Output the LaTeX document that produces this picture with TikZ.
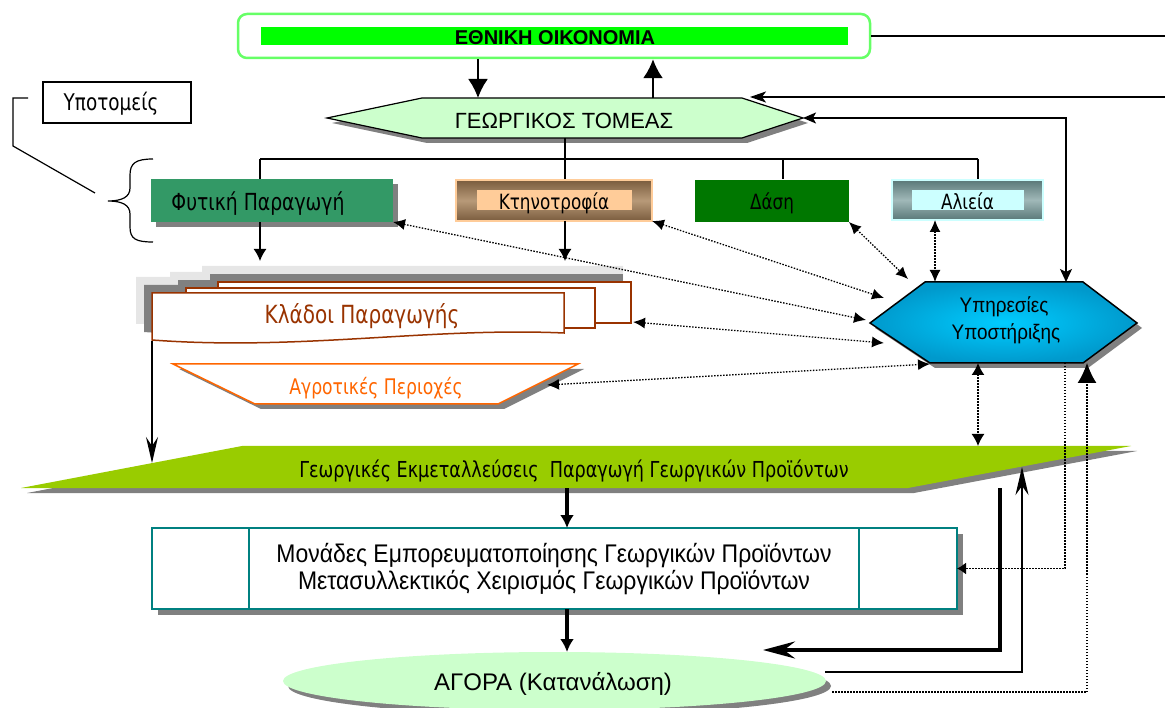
\documentclass[tikz,border=0pt]{standalone}
\usepackage{fontspec}
\setmainfont{Liberation Sans}
\newfontfamily\verd[FakeStretch=0.8]{DejaVu Sans}
\newfontfamily\narrowf[FakeStretch=0.9]{Liberation Sans}
\usetikzlibrary{arrows.meta,shadows,shapes.geometric,positioning}

\definecolor{econgreen}{HTML}{66FF66}
\definecolor{bargreen}{HTML}{00FF00}
\definecolor{lightgreen}{HTML}{CCFFCC}
\definecolor{plantgreen}{HTML}{339966}
\definecolor{brownd}{HTML}{7A5C3E}
\definecolor{brownl}{HTML}{B89A78}
\definecolor{peach}{HTML}{FFCC99}
\definecolor{forestgreen}{HTML}{007700}
\definecolor{fishd}{HTML}{5A7878}
\definecolor{fishl}{HTML}{A0B8B8}
\definecolor{fishcyan}{HTML}{CCFFFF}
\definecolor{kladoi}{HTML}{993300}
\definecolor{rural}{HTML}{FF6600}
\definecolor{farmgreen}{HTML}{99CC00}
\definecolor{tealline}{HTML}{008080}
\definecolor{supcyan}{HTML}{00CCFF}
\definecolor{supblue}{HTML}{0099CC}
\definecolor{shadowgray}{HTML}{808080}
\definecolor{shadelight}{HTML}{E6E6E6}

\newcommand{\fsz}[1]{\fontsize{#1pt}{#1pt}\selectfont}
\newcommand{\frontpage}{(152,293) -- (564,293) -- (564,333) .. controls (430,327) and (300,351) .. (152,340) -- cycle}

\begin{document}
\begin{tikzpicture}[x=1pt,y=-1pt,
    shadowed/.style={drop shadow={shadow xshift=5pt,shadow yshift=-5pt,fill=shadowgray,opacity=1}},
    txt/.style={anchor=base,inner sep=0pt},
    flat/.style={inner sep=0pt,outer sep=0pt},
    dotline/.style={line width=1.3pt,dash pattern=on 1.5pt off 1.5pt},
    dotarrow/.style={dotline,{Latex[length=12pt,width=11pt]}-{Latex[length=12pt,width=11pt]}},
    bigarrow/.style={line width=2pt,-{Latex[length=19pt,width=20pt]}},
    thinarrow/.style={line width=1.5pt,-{Latex[length=12pt,width=13pt]}},
    thickarrow/.style={line width=3.5pt,-{Latex[length=13pt,width=14pt]}}]

\useasboundingbox (0,0) rectangle (1165,708);

\coordinate (agr-d) at (478,98);
\coordinate (agr-u) at (653,98);
\coordinate (agr-s) at (565,138);
\coordinate (agr-e) at (803,118);
\coordinate (agr-ne) at (750,97);
\coordinate (edge-a) at (1165,37);
\coordinate (edge-b) at (1165,97);
\coordinate (branch) at (565,159);
\coordinate (sup-n) at (1066,282);
\coordinate (sup-a) at (908,279);
\coordinate (sup-b) at (884,298);
\coordinate (sup-c) at (866,320);
\coordinate (sup-d) at (884,343);
\coordinate (sup-e) at (930,364);
\coordinate (sup-fish) at (935,282);
\coordinate (sup-s1) at (978,363);
\coordinate (sup-s2) at (1065,363);
\coordinate (sup-s3) at (1087,363);
\coordinate (kl-n1) at (260,261);
\coordinate (kl-n2) at (565,261);
\coordinate (kl-e) at (633,322);
\coordinate (kl-sw) at (152,341);
\coordinate (rur-e) at (547,385);
\coordinate (farm-n) at (978,446);
\coordinate (farm-w) at (152,463);
\coordinate (farm-s) at (567,488);
\coordinate (farm-s2) at (1000,488);
\coordinate (farm-se) at (1022,467);
\coordinate (div-a) at (249,0);
\coordinate (div-b) at (859,0);
\coordinate (mkt-in) at (763,650);
\coordinate (mkt-e1) at (825,672);
\coordinate (mkt-e2) at (832,692);
\coordinate (call-a) at (28,98);
\coordinate (call-b) at (95,193);

% national economy
\node[draw=econgreen,line width=2.5pt,rounded corners=9pt,fill=white,minimum width=632pt,minimum height=44pt] (econ) at (554,36) {};
\node[flat,fill=bargreen,minimum width=587pt,minimum height=18pt] (econbar) at (554.5,36) {};
\node[txt,font=\bfseries\fsz{20}] (econtxt) at (555,45) {ΕΘΝΙΚΗ ΟΙΚΟΝΟΜΙΑ};

% agricultural sector
\draw[fill=lightgreen,line width=1.2pt,shadowed] (327,118) -- (422,98) -- (742,98) -- (803,118) -- (742,138) -- (422,138) -- cycle;
\node[txt,font=\fsz{22}] (agr) at (564,129) {ΓΕΩΡΓΙΚΟΣ ΤΟΜΕΑΣ};

\draw[bigarrow] (econ.south -| agr-d) -- (agr-d);
\draw[bigarrow] (agr-u) -- (econ.south -| agr-u);
\draw[line width=1.5pt] (econ.east) -- (econ.east -| edge-a);
\draw[line width=1.5pt,-{Stealth[length=16pt,width=11pt,inset=4pt]}] (edge-b) -- (agr-ne);
\draw[line width=1.5pt,{Stealth[length=13pt,width=11pt,inset=3pt]}-{Stealth[length=13pt,width=12pt,inset=3pt]}] (agr-e) -| (sup-n);

% sub-sectors
\draw[line width=1.2pt] (agr-s) -- (branch);
\draw[line width=1.2pt] (260,159) -- (978,159);
\foreach \x/\n in {260/plant,565/livestock,783/forest,978/fish}
  \draw[line width=1.2pt] (\x,159) -- (\x,179);

\node[draw,line width=1.2pt,flat,minimum width=148pt,minimum height=41pt] (subs) at (117,102.5) {};
\node[txt,font=\verd\fsz{23}] (substxt) at (111,111) {Υποτομείς};
\draw[line width=1.2pt] (call-a) -- (13,98) -- (13,146) -- (call-b);
\draw[line width=1.2pt] (153,159) .. controls (136,159) and (130,163) .. (130,175) -- (130,188)
  .. controls (130,197) and (122,201) .. (108,201) .. controls (122,201) and (130,205) .. (130,214)
  -- (130,227) .. controls (130,239) and (136,242) .. (153,242);

\node[flat,fill=plantgreen,minimum width=242pt,minimum height=43pt,shadowed] (plant) at (272,200.5) {};
\node[txt,font=\verd\fsz{23.5}] (planttxt) at (258,211) {Φυτική Παραγωγή};

\node[flat,draw=peach,line width=1.2pt,top color=brownd,bottom color=brownd,middle color=brownl,minimum width=196pt,minimum height=41pt] (livestock) at (554,200.5) {};
\node[flat,fill=peach,minimum width=155pt,minimum height=20pt] (livestockin) at (554.5,200) {};
\node[txt,font=\verd\fsz{21}] (livestocktxt) at (554,210) {Κτηνοτροφία};

\node[flat,fill=forestgreen,minimum width=154pt,minimum height=42pt] (forest) at (772,201) {};
\node[txt,font=\verd\fsz{21}] (foresttxt) at (772,210) {Δάση};

\node[flat,draw=fishcyan,line width=1.2pt,top color=fishd,bottom color=fishd,middle color=fishl,minimum width=151pt,minimum height=40pt] (fish) at (967.5,200) {};
\node[flat,fill=fishcyan,minimum width=112pt,minimum height=20pt] (fishin) at (968,200) {};
\node[txt,font=\verd\fsz{21}] (fishtxt) at (967.5,210) {Αλιεία};

% production branches
\fill[shadelight] (136,324) -- (136,277) -- (170,277) -- (170,272) -- (202,272) -- (202,266) -- (623,266) -- (623,290) -- (150,290) -- (150,324) -- cycle;
\fill[shadowgray,shift={(-8,-8)}] (218,282) rectangle (631,323);
\fill[shadowgray,shift={(-8,-8)}] (186,288) rectangle (595,328);
\fill[shadowgray,shift={(-8,-8)}] \frontpage;
\draw[kladoi,line width=1.5pt,fill=white] (218,282) rectangle (631,323);
\draw[kladoi,line width=1.5pt,fill=white] (186,288) rectangle (595,328);
\draw[kladoi,line width=1.5pt,fill=white] \frontpage;
\node[txt,font=\verd\fsz{25}] [text=kladoi] (branches) at (362,324) {Κλάδοι Παραγωγής};

\draw[thinarrow] (plant.south -| kl-n1) -- (kl-n1);
\draw[thinarrow] (livestock.south -| kl-n2) -- (kl-n2);

% rural areas
\draw[rural,line width=1.5pt,fill=white,drop shadow={shadow xshift=6pt,shadow yshift=-5pt,fill=shadowgray,opacity=1}] (173,364) -- (578,364) -- (498,404) -- (255,404) -- cycle;
\node[txt,font=\verd\fsz{21.5},text=rural] (rural) at (376,395) {Αγροτικές Περιοχές};

% farms
\fill[farmgreen,drop shadow={shadow xshift=6pt,shadow yshift=-5pt,fill=shadowgray,opacity=1}] (21,488) -- (242,446) -- (1131,446) -- (908,488) -- cycle;
\node[txt,font=\verd\fsz{22}] (farm) at (574,477) {Γεωργικές Εκμεταλλεύσεις\ \ Παραγωγή Γεωργικών Προϊόντων};
\draw[line width=1.5pt,-{Stealth[length=26pt,width=12pt,inset=9pt]}] (kl-sw) -- (farm-w);

% support services
\shadedraw[shading=radial,inner color=supcyan,outer color=supblue,line width=1.5pt,shadowed] (870,323) -- (925,282) -- (1083,282) -- (1137,323) -- (1083,363) -- (930,363) -- cycle;
\node[txt,font=\narrowf\fsz{21}] (sup1) at (1004,313) {Υπηρεσίες};
\node[txt,font=\narrowf\fsz{21}] (sup2) at (1006,340) {Υποστήριξης};

\draw[dotarrow] (plant.south east) -- (sup-c);
\draw[dotarrow] (livestock.south east) -- (sup-b);
\draw[dotarrow] (forest.south east) -- (sup-a);
\draw[dotarrow] (fish.south -| sup-fish) -- (sup-fish);
\draw[dotarrow] (kl-e) -- (sup-d);
\draw[dotarrow] (rur-e) -- (sup-e);
\draw[dotline,{Latex[length=12pt,width=13pt]}-{Latex[length=12pt,width=13pt]}] (sup-s1) -- (farm-n);

% marketing units
\node[flat,draw=tealline,line width=2pt,fill=white,minimum width=805pt,minimum height=81pt,drop shadow={shadow xshift=6pt,shadow yshift=-6pt,fill=shadowgray,opacity=1}] (units) at (554.5,568.5) {};
\draw[tealline,line width=1.5pt] (units.north -| div-a) -- (units.south -| div-a);
\draw[tealline,line width=1.5pt] (units.north -| div-b) -- (units.south -| div-b);
\node[txt,font=\narrowf\fsz{25.5}] (units1) at (554,562) {Μονάδες Εμπορευματοποίησης Γεωργικών Προϊόντων};
\node[txt,font=\narrowf\fsz{25.5}] (units2) at (554,589) {Μετασυλλεκτικός Χειρισμός Γεωργικών Προϊόντων};

% market
\node[ellipse,flat,fill=lightgreen,minimum width=543pt,minimum height=58pt,shadowed] (market) at (554.5,681) {};
\node[txt,font=\fsz{24}] (markettxt) at (553,690) {ΑΓΟΡΑ (Κατανάλωση)};

\draw[thickarrow] (farm-s) -- (units.north -| farm-s);
\draw[thickarrow] (units.south -| farm-s) -- (market.north -| farm-s);

\draw[dotline,-{Latex[length=20pt,width=19pt]}] (mkt-e2) -| (sup-s3);
\draw[dotline,-{Latex[length=9pt,width=12pt]}] (sup-s2) |- (units.east);
\draw[line width=4pt,-{Stealth[length=32pt,width=17pt,inset=11pt]}] (farm-s2) |- (mkt-in);
\draw[line width=2pt,-{Stealth[length=28pt,width=13pt,inset=9pt]}] (mkt-e1) -| (farm-se);

\end{tikzpicture}
\end{document}
